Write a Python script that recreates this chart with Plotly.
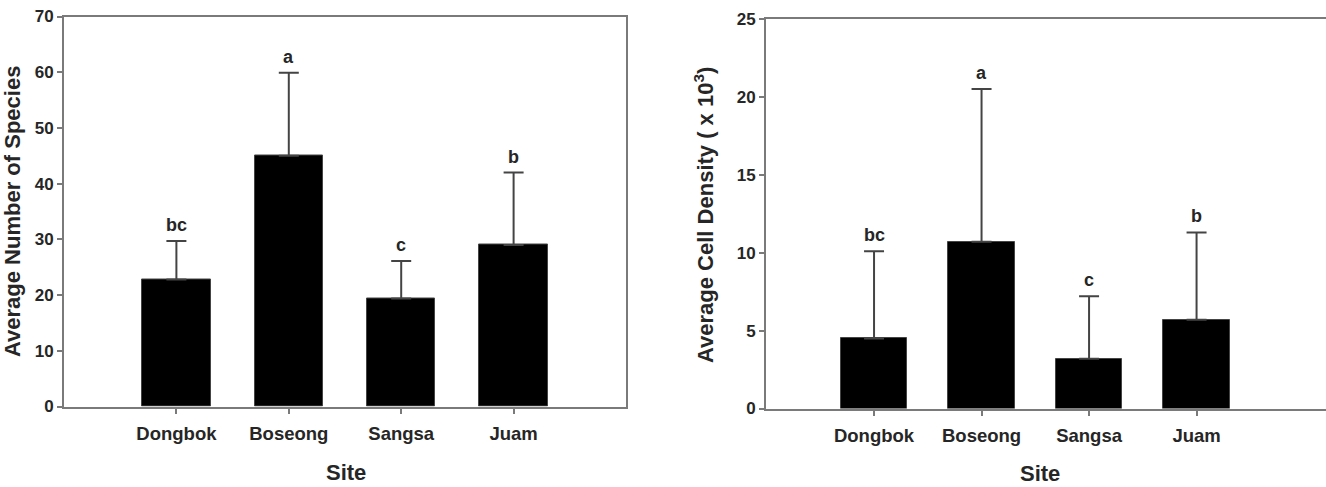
import plotly.graph_objects as go

sites = ["Dongbok", "Boseong", "Sangsa", "Juam"]
species_mean = [22.8, 45.0, 19.4, 29.0]
species_err = [6.9, 14.9, 6.7, 13.0]
species_letters = ["bc", "a", "c", "b"]

density_mean = [4.5, 10.7, 3.2, 5.7]
density_err = [5.6, 9.8, 4.0, 5.6]
density_letters = ["bc", "a", "c", "b"]

left_y_ticks = [0, 10, 20, 30, 40, 50, 60, 70]
right_y_ticks = [0, 5, 10, 15, 20, 25]

W, H = 1326, 487
FONT = "Liberation Sans"
TXT = "#262626"
AX = "#7a7a7a"

xs = list(range(len(sites)))

fig = go.Figure()

fig.add_trace(go.Bar(
    x=xs, y=species_mean, width=0.61,
    marker=dict(color="black", line=dict(color="#444", width=1)),
    error_y=dict(type="data", array=species_err, arrayminus=[0] * 4, symmetric=False,
                 color="#444", thickness=2, width=10),
    xaxis="x", yaxis="y", showlegend=False, hoverinfo="skip",
))
fig.add_trace(go.Bar(
    x=xs, y=density_mean, width=0.62,
    marker=dict(color="black", line=dict(color="#444", width=1)),
    error_y=dict(type="data", array=density_err, arrayminus=[0] * 4, symmetric=False,
                 color="#444", thickness=2, width=10),
    xaxis="x2", yaxis="y2", showlegend=False, hoverinfo="skip",
))

tickfont = dict(family=FONT, size=17, color=TXT)
xtickfont = dict(family=FONT, size=18.5, color=TXT)

common_x = dict(
    tickmode="array", tickvals=xs, ticktext=[f"<b>{s}</b>" for s in sites],
    showline=True, linecolor=AX, linewidth=2, ticks="outside", ticklen=5,
    tickcolor=AX, tickwidth=1.5, tickfont=xtickfont, showgrid=False, zeroline=False,
    ticklabelstandoff=4, fixedrange=True, automargin=False,
)
common_y = dict(
    showline=True, linecolor=AX, linewidth=2, ticks="outside", ticklen=5,
    tickcolor=AX, tickwidth=1.5, tickfont=tickfont, showgrid=False, zeroline=False,
    fixedrange=True, automargin=False,
)

fig.update_layout(
    width=W, height=H, margin=dict(l=0, r=0, t=0, b=0, autoexpand=False),
    plot_bgcolor="white", paper_bgcolor="white", bargap=0,
    xaxis=dict(domain=[64 / W, 626 / W], range=[-1, 4], mirror=True, anchor="y", **common_x),
    yaxis=dict(domain=[(H - 406.5) / H, (H - 16.5) / H], range=[0, 70], mirror=True,
               anchor="x", tickvals=left_y_ticks,
               ticktext=[f"<b>{v}</b>" for v in left_y_ticks], **common_y),
    xaxis2=dict(domain=[766 / W, 1.0], range=[-1.005, 4.204], mirror=True, anchor="y2", **common_x),
    yaxis2=dict(domain=[(H - 408.5) / H, (H - 19) / H], range=[0, 25], mirror=False,
                anchor="x2", tickvals=right_y_ticks,
                ticktext=[f"<b>{v}</b>" for v in right_y_ticks], **common_y),
)

annotations = []
letter_font = dict(family=FONT, size=18, color=TXT)
for i in xs:
    annotations.append(dict(x=i, y=species_mean[i] + species_err[i], xref="x", yref="y",
                            text=f"<b>{species_letters[i]}</b>", showarrow=False,
                            yanchor="bottom", yshift=4, font=letter_font))
    annotations.append(dict(x=i, y=density_mean[i] + density_err[i], xref="x2", yref="y2",
                            text=f"<b>{density_letters[i]}</b>", showarrow=False,
                            yanchor="bottom", yshift=4, font=letter_font))

title_font = dict(family=FONT, size=22, color=TXT)
annotations += [
    dict(x=12 / W, y=(H - 212) / H, xref="paper", yref="paper", text="<b>Average Number of Species</b>",
         textangle=-90, showarrow=False, xanchor="center", yanchor="middle", font=title_font),
    dict(x=704 / W, y=(H - 215) / H, xref="paper", yref="paper",
         text="<b>Average Cell Density ( x 10<sup>3</sup>)</b>",
         textangle=-90, showarrow=False, xanchor="center", yanchor="middle", font=title_font),
    dict(x=346 / W, y=(H - 472) / H, xref="paper", yref="paper", text="<b>Site</b>",
         showarrow=False, xanchor="center", yanchor="middle", font=title_font),
    dict(x=1040 / W, y=(H - 473) / H, xref="paper", yref="paper", text="<b>Site</b>",
         showarrow=False, xanchor="center", yanchor="middle", font=title_font),
]
fig.update_layout(annotations=annotations)

fig.write_html("out.html")
